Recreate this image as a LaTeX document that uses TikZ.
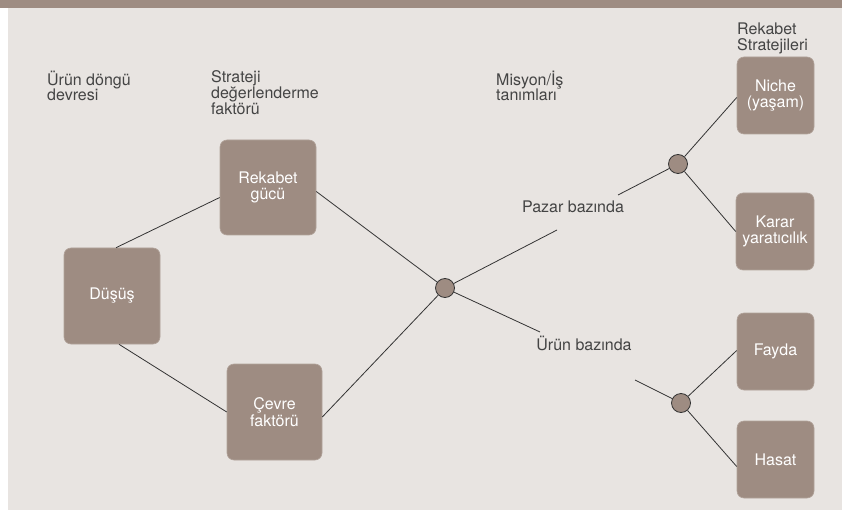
\documentclass[tikz,border=0pt]{standalone}
\usepackage{fontspec}
\setmainfont{TeX Gyre Heros}
\definecolor{band}{HTML}{9E8C82}
\definecolor{bgc}{HTML}{E8E4E1}
\definecolor{ink}{HTML}{333333}
\definecolor{tink}{HTML}{444444}
\definecolor{boxedge}{HTML}{B1A39A}
\begin{document}
\begin{tikzpicture}[x=1pt,y=-1pt,
  txt/.style={font=\fontsize{16}{15.8}\selectfont, text=tink, inner sep=0pt, align=left},
  box/.style={rectangle, rounded corners=7pt, fill=band, draw=boxedge, line width=0.6pt,
    text=white, inner sep=0pt, align=center, font=\fontsize{16}{16.5}\selectfont},
  dot/.style={circle, fill=band, draw=ink, line width=0.8pt, minimum size=19pt, inner sep=0pt},
  conn/.style={draw=ink, line width=0.8pt}]
\fill[white] (0,0) rectangle (842,510);
\fill[bgc] (8,8) rectangle (842,510);
\fill[band] (0,0) rectangle (842,8);
\useasboundingbox (0,0) rectangle (842,510);

% header texts
\node[txt, anchor=north west] (t1) at (47,70.5) {Ürün döngü\\devresi};
\node[txt, anchor=north west] (t2) at (211,70.5) {Strateji\\değerlenderme\\faktörü};
\node[txt, anchor=north west] (t3) at (496,70.5) {Misyon/İş\\tanımları};
\node[txt, anchor=north west] (t4) at (737,22.5) {Rekabet\\Stratejileri};

% boxes
\node[box, minimum width=96pt, minimum height=95pt] (rek) at (268,187.5) {Rekabet\\gücü};
\node[box, minimum width=96pt, minimum height=96pt] (dus) at (112,296) {Düşüş};
\node[box, minimum width=95pt, minimum height=96pt] (cev) at (274.5,412) {Çevre\\faktörü};
\node[box, minimum width=77pt, minimum height=77pt] (niche) at (775.5,95.5) {Niche\\(yaşam)};
\node[box, minimum width=78pt, minimum height=77pt] (karar) at (775,231.5) {Karar\\yaratıcılık};
\node[box, minimum width=77pt, minimum height=77pt] (fayda) at (775.5,351.5) {Fayda};
\node[box, minimum width=77pt, minimum height=77pt] (hasat) at (775.5,459.5) {Hasat};

% circles
\node[dot] (c1) at (445,288) {};
\node[dot] (c2) at (681,403) {};
\node[dot] (c3) at (678,164) {};

% labels
\node[txt, anchor=center] (pz) at (573,207) {Pazar bazında};
\node[txt, anchor=center] (ur) at (584,343) {Ürün bazında};

% free ends
\coordinate (pzlo) at (557,230);
\coordinate (pzhi) at (618,195);
\coordinate (urlo) at (540,332);
\coordinate (urhi) at (635,380);

% connectors
\draw[conn] ([xshift=4pt]dus.north) -- ([yshift=-10pt]rek.west);
\draw[conn] ([xshift=7pt]dus.south) -- (cev.west);
\draw[conn] ([yshift=-4pt]rek.east) -- (c1);
\draw[conn] ([yshift=-5pt]cev.east) -- (c1);
\draw[conn] (c1) -- (pzlo);
\draw[conn] (c1) -- (urlo);
\draw[conn] (pzhi) -- (c3);
\draw[conn] (c3) -- ([yshift=-2pt]niche.west);
\draw[conn] (c3) -- (karar.west);
\draw[conn] (urhi) -- (c2);
\draw[conn] (c2) -- ([yshift=1pt]fayda.west);
\draw[conn] (c2) -- ([yshift=-7pt]hasat.west);
\end{tikzpicture}
\end{document}
